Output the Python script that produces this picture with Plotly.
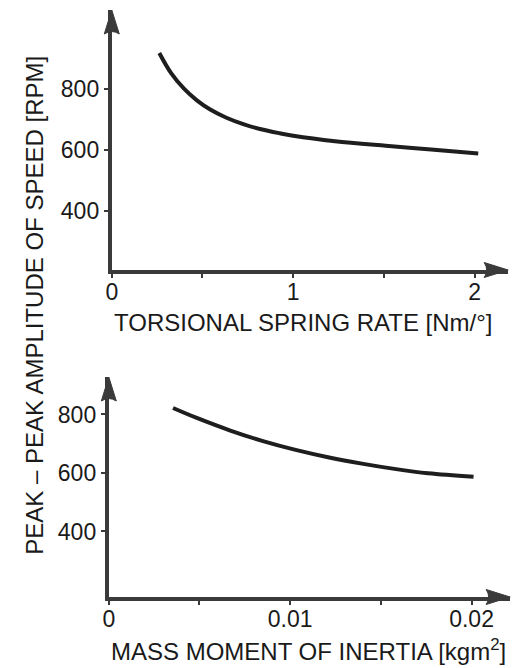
import plotly.graph_objects as go

# Top panel: torsional spring rate [Nm/deg] vs peak-peak amplitude [RPM]
spring_rate = [0.262, 0.327, 0.398, 0.469, 0.545, 0.632, 0.725, 0.817, 0.926, 1.00, 1.23, 1.51, 1.76, 2.02]
spring_rpm = [917, 851, 800, 762, 731, 705, 684, 668, 654, 646, 628, 613, 601, 588]

# Bottom panel: mass moment of inertia [kgm2] vs peak-peak amplitude [RPM]
inertia = [0.00354, 0.00485, 0.00670, 0.00850, 0.01030, 0.01215, 0.01395, 0.01575, 0.01760, 0.02011]
inertia_rpm = [822, 788, 745, 709, 679, 653, 632, 614, 599, 587]

top_xticks = [0, 1, 2]
top_yticks = [400, 600, 800]
bot_xticks = [0, 0.01, 0.02]
bot_xticklabels = ["0", "0.01", "0.02"]
bot_yticks = [400, 600, 800]

FONT = "Liberation Sans"
INK = "#1e1e1e"
AXIS = "#3a3a3a"

W, H = 524, 668
top_xdom = [107 / W, 508 / W]
top_ydom = [1 - 270 / H, 1 - 10 / H]
bot_xdom = [104 / W, 510 / W]
bot_ydom = [1 - 597 / H, 1 - 377 / H]

fig = go.Figure()
fig.add_trace(go.Scatter(x=spring_rate, y=spring_rpm, mode="lines",
                         line=dict(color=INK, width=4, shape="spline", smoothing=1.0),
                         xaxis="x", yaxis="y", showlegend=False))
fig.add_trace(go.Scatter(x=inertia, y=inertia_rpm, mode="lines",
                         line=dict(color=INK, width=4, shape="spline", smoothing=1.0),
                         xaxis="x2", yaxis="y2", showlegend=False))

top_xr = [0, 2.185]
top_yr = [206, 1058]
bot_xr = [0, 0.02213]
bot_yr = [176, 928]

common_axis = dict(showgrid=False, zeroline=False, showline=True, linewidth=4, linecolor=AXIS,
                   ticks="outside", ticklen=4, tickwidth=2, tickcolor=AXIS,
                   tickfont=dict(family=FONT, size=23, color="#1a1a1a"))

fig.update_layout(
    width=W, height=H, margin=dict(l=0, r=0, t=0, b=0),
    paper_bgcolor="white", plot_bgcolor="white",
    xaxis=dict(domain=top_xdom, range=top_xr, anchor="y", tickvals=top_xticks, ticklabelstandoff=-6,
               minor=dict(tickvals=[0.5, 1.5], ticks="outside", ticklen=4, tickwidth=2, tickcolor=AXIS), **common_axis),
    yaxis=dict(domain=top_ydom, range=top_yr, anchor="x", tickvals=top_yticks, **common_axis),
    xaxis2=dict(domain=bot_xdom, range=bot_xr, anchor="y2", tickvals=bot_xticks, ticktext=bot_xticklabels,
                ticklabelstandoff=-6,
                minor=dict(tickvals=[0.005, 0.015], ticks="outside", ticklen=4, tickwidth=2, tickcolor=AXIS), **common_axis),
    yaxis2=dict(domain=bot_ydom, range=bot_yr, anchor="x2", tickvals=bot_yticks, **common_axis),
)

# arrowheads at the axis ends (pixel-sized paths anchored at the axis end points)
UP = "M0,0 L-7.5,-24 Q0,-19 7.5,-24 Z"
RIGHT = "M0,0 L-24,7.5 Q-19,0 -24,-7.5 Z"

def arrowhead(xa, ya, path):
    fig.add_shape(type="path", xref="paper", yref="paper", xsizemode="pixel", ysizemode="pixel",
                  xanchor=xa, yanchor=ya, path=path, fillcolor=AXIS, line=dict(color=AXIS, width=1))

arrowhead(top_xdom[0], top_ydom[1], UP)
arrowhead(top_xdom[1], top_ydom[0], RIGHT)
arrowhead(bot_xdom[0], bot_ydom[1], UP)
arrowhead(bot_xdom[1], bot_ydom[0], RIGHT)

title_font = dict(family=FONT, size=24, color="#1a1a1a")
fig.add_annotation(text="PEAK – PEAK AMPLITUDE OF SPEED [RPM]", textangle=-90, xref="paper", yref="paper",
                   x=28 / W, y=1 - 305 / H, xanchor="center", yanchor="middle", showarrow=False, font=title_font)
fig.add_annotation(text="TORSIONAL SPRING RATE [Nm/°]", xref="paper", yref="paper",
                   x=301 / W, y=1 - 322 / H, xanchor="center", yanchor="middle", showarrow=False, font=title_font)
fig.add_annotation(text="MASS MOMENT OF INERTIA [kgm<sup>2</sup>]", xref="paper", yref="paper",
                   x=306 / W, y=1 - 650 / H, xanchor="center", yanchor="middle", showarrow=False, font=title_font)

fig.write_html("out.html")
